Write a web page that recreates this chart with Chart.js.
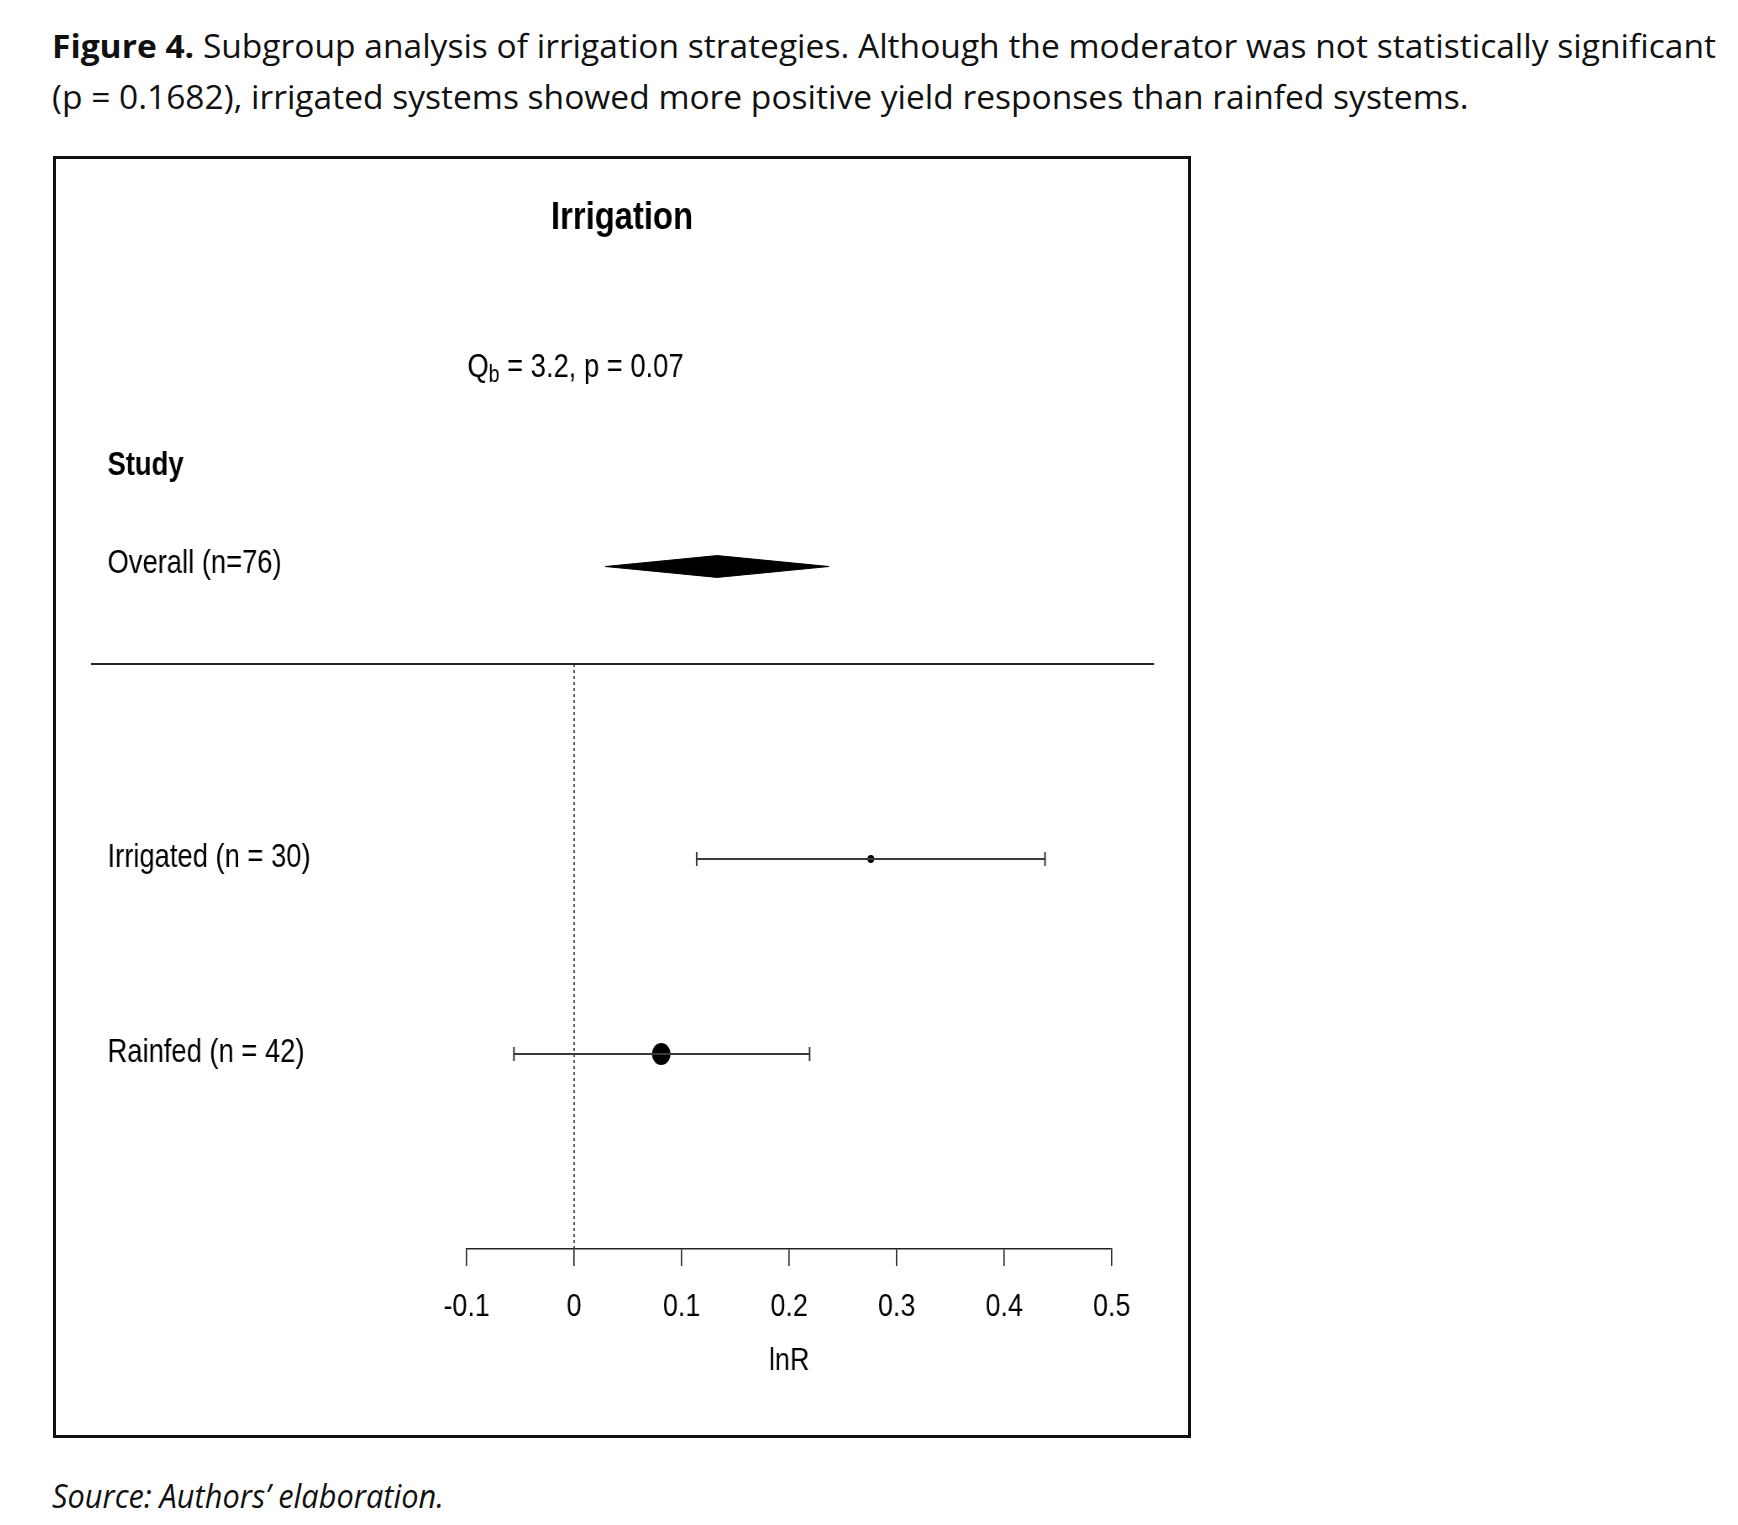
<!DOCTYPE html>
<html><head><meta charset="utf-8">
<script src="https://cdn.jsdelivr.net/npm/chart.js@4.4.1/dist/chart.umd.min.js"></script>
<style>
html,body{margin:0;padding:0;background:#fff;width:1738px;height:1525px;overflow:hidden;}
.cap{position:absolute;left:52px;font-family:'Open Sans','Noto Sans',sans-serif;font-size:33px;line-height:40px;color:#111;white-space:nowrap;transform-origin:0 50%;}
#l1{top:26px;}
#l2{top:77px;}
#src{top:1476px;font-style:italic;}
#box{position:absolute;left:53px;top:156px;width:1138px;height:1282px;border:3px solid #111;box-sizing:border-box;}
#wrap{position:absolute;left:55px;top:158px;width:1350px;height:1278px;transform:scaleX(0.84);transform-origin:0 0;}
</style></head>
<body>
<div class="cap" id="l1"><b>Figure 4.</b> Subgroup analysis of irrigation strategies. Although the moderator was not statistically significant</div>
<div class="cap" id="l2">(p = 0.1682), irrigated systems showed more positive yield responses than rainfed systems.</div>
<div id="box"></div>
<div id="wrap"><canvas id="c" width="1350" height="1278"></canvas></div>
<div class="cap" id="src">Source: Authors’ elaboration.</div>
<script>
// ---- data ----
const chartTitle = 'Irrigation';
const headerLabel = 'Study';
const groupLabels = ['Irrigated (n = 30)', 'Rainfed (n = 42)'];
const groupRows = [2, 1];
const groupEst = [0.276, 0.081];
const groupLo = [0.114, -0.056];
const groupHi = [0.438, 0.219];
const overallLabel = 'Overall (n=76)';
const overallRow = 3.5;
const overallEst = 0.133;
const overallLo = 0.029;
const overallHi = 0.237;
const headerRow = 4;
const statRow = 4.5;
const separatorRow = 3;
const qbValue = '3.2';
const pValue = '0.07';
const tickValues = [-0.1, 0, 0.1, 0.2, 0.3, 0.4, 0.5];
const tickLabels = ['-0.1', '0', '0.1', '0.2', '0.3', '0.4', '0.5'];
const axisTitle = 'lnR';

// ---- caption fitting ----
function fit(el, target){ const w = el.getBoundingClientRect().width; el.style.transform = 'scaleX(' + (target / w) + ')'; return target / w; }
const k1 = fit(document.getElementById('l1'), 1664);
document.getElementById('l2').style.transform = 'scaleX(' + k1 + ')';
fit(document.getElementById('src'), 392);

// ---- chart ----
const F = "'Liberation Sans', Arial, sans-serif";
const SX = 0.84;
const diamondHalf = 0.056;

const datasets = [];
datasets.push({
  data: [{x: 0, y: 0}, {x: 0, y: separatorRow}],
  showLine: true, borderColor: '#333', borderWidth: 1.6, borderDash: [3, 3],
  pointRadius: 0
});
groupLabels.forEach((g, i) => {
  datasets.push({
    data: [{x: groupLo[i], y: groupRows[i]}, {x: groupHi[i], y: groupRows[i]}],
    showLine: true, borderColor: '#3a3a3a', borderWidth: 2,
    pointStyle: 'line', rotation: 90, pointRadius: 7, pointBorderWidth: 2,
    pointBorderColor: '#3a3a3a', pointBackgroundColor: '#3a3a3a'
  });
});
datasets.push({
  data: groupLabels.map((g, i) => ({x: groupEst[i], y: groupRows[i]})),
  showLine: false, pointRadius: [4, 11], pointBackgroundColor: '#000',
  pointBorderColor: '#000', pointBorderWidth: 0
});
datasets.push({
  data: [
    {x: overallLo, y: overallRow},
    {x: overallEst, y: overallRow + diamondHalf},
    {x: overallHi, y: overallRow},
    {x: overallEst, y: overallRow - diamondHalf},
    {x: overallLo, y: overallRow}
  ],
  showLine: true, fill: 'shape', backgroundColor: '#000', borderColor: '#000',
  borderWidth: 1, pointRadius: 0, tension: 0
});

const forestText = {
  id: 'forestText',
  afterDraw(chart){
    const {ctx, chartArea, scales: {x, y}} = chart;
    const labelX = 52.5 / SX;
    ctx.save();
    ctx.fillStyle = '#000';
    ctx.textBaseline = 'middle';
    ctx.textAlign = 'center';
    ctx.font = 'bold 39px ' + F;
    ctx.fillText(chartTitle, chart.width / 2, 60);
    ctx.textAlign = 'left';
    ctx.font = 'bold 32.6px ' + F;
    ctx.fillText(headerLabel, labelX, y.getPixelForValue(headerRow) - 3);
    ctx.font = '32.6px ' + F;
    ctx.fillText(overallLabel, labelX, y.getPixelForValue(overallRow) - 2);
    groupLabels.forEach((g, i) => ctx.fillText(g, labelX, y.getPixelForValue(groupRows[i]) - 1));
    // Qb statistic
    ctx.font = '32.6px ' + F;
    let sx = x.getPixelForValue(tickValues[0]) + 1;
    const sy = y.getPixelForValue(statRow) - 3;
    ctx.fillText('Q', sx, sy); sx += ctx.measureText('Q').width;
    ctx.font = '23px ' + F;
    ctx.fillText('b', sx, sy + 7); sx += ctx.measureText('b').width;
    ctx.font = '32.6px ' + F;
    ctx.fillText(' = ' + qbValue + ', p = ' + pValue, sx, sy);
    // separator
    const sp = y.getPixelForValue(separatorRow);
    ctx.strokeStyle = '#222';
    ctx.lineWidth = 2;
    ctx.beginPath();
    ctx.moveTo(36 / SX, sp);
    ctx.lineTo(chartArea.right + 42.3 / SX, sp);
    ctx.stroke();
    ctx.restore();
  }
};

new Chart(document.getElementById('c'), {
  type: 'scatter',
  data: {datasets},
  plugins: [forestText],
  options: {
    responsive: false, animation: false, devicePixelRatio: 1,
    layout: {padding: {left: 411.6 / SX, right: 77.3 / SX, top: 116, bottom: 0}},
    plugins: {
      legend: {display: false}, tooltip: {enabled: false}, title: {display: false}
    },
    scales: {
      x: {
        type: 'linear', min: tickValues[0], max: tickValues[tickValues.length - 1],
        afterFit(s){ s.height = 187; },
        afterBuildTicks(s){ s.ticks = tickValues.map(v => ({value: v})); },
        ticks: {callback: (v, i) => tickLabels[i], color: '#000', font: {family: F, size: 32}, padding: 22, maxRotation: 0, autoSkip: false},
        grid: {display: true, drawOnChartArea: false, drawTicks: true, tickLength: 17, color: '#222', lineWidth: 1.6},
        border: {display: true, color: '#222', width: 1.6},
        title: {display: true, text: axisTitle, color: '#000', font: {family: F, size: 32, lineHeight: 1.2}, padding: {top: 0, bottom: 56}}
      },
      y: {type: 'linear', min: 0, max: 5, display: false}
    }
  }
});
</script>
</body></html>
